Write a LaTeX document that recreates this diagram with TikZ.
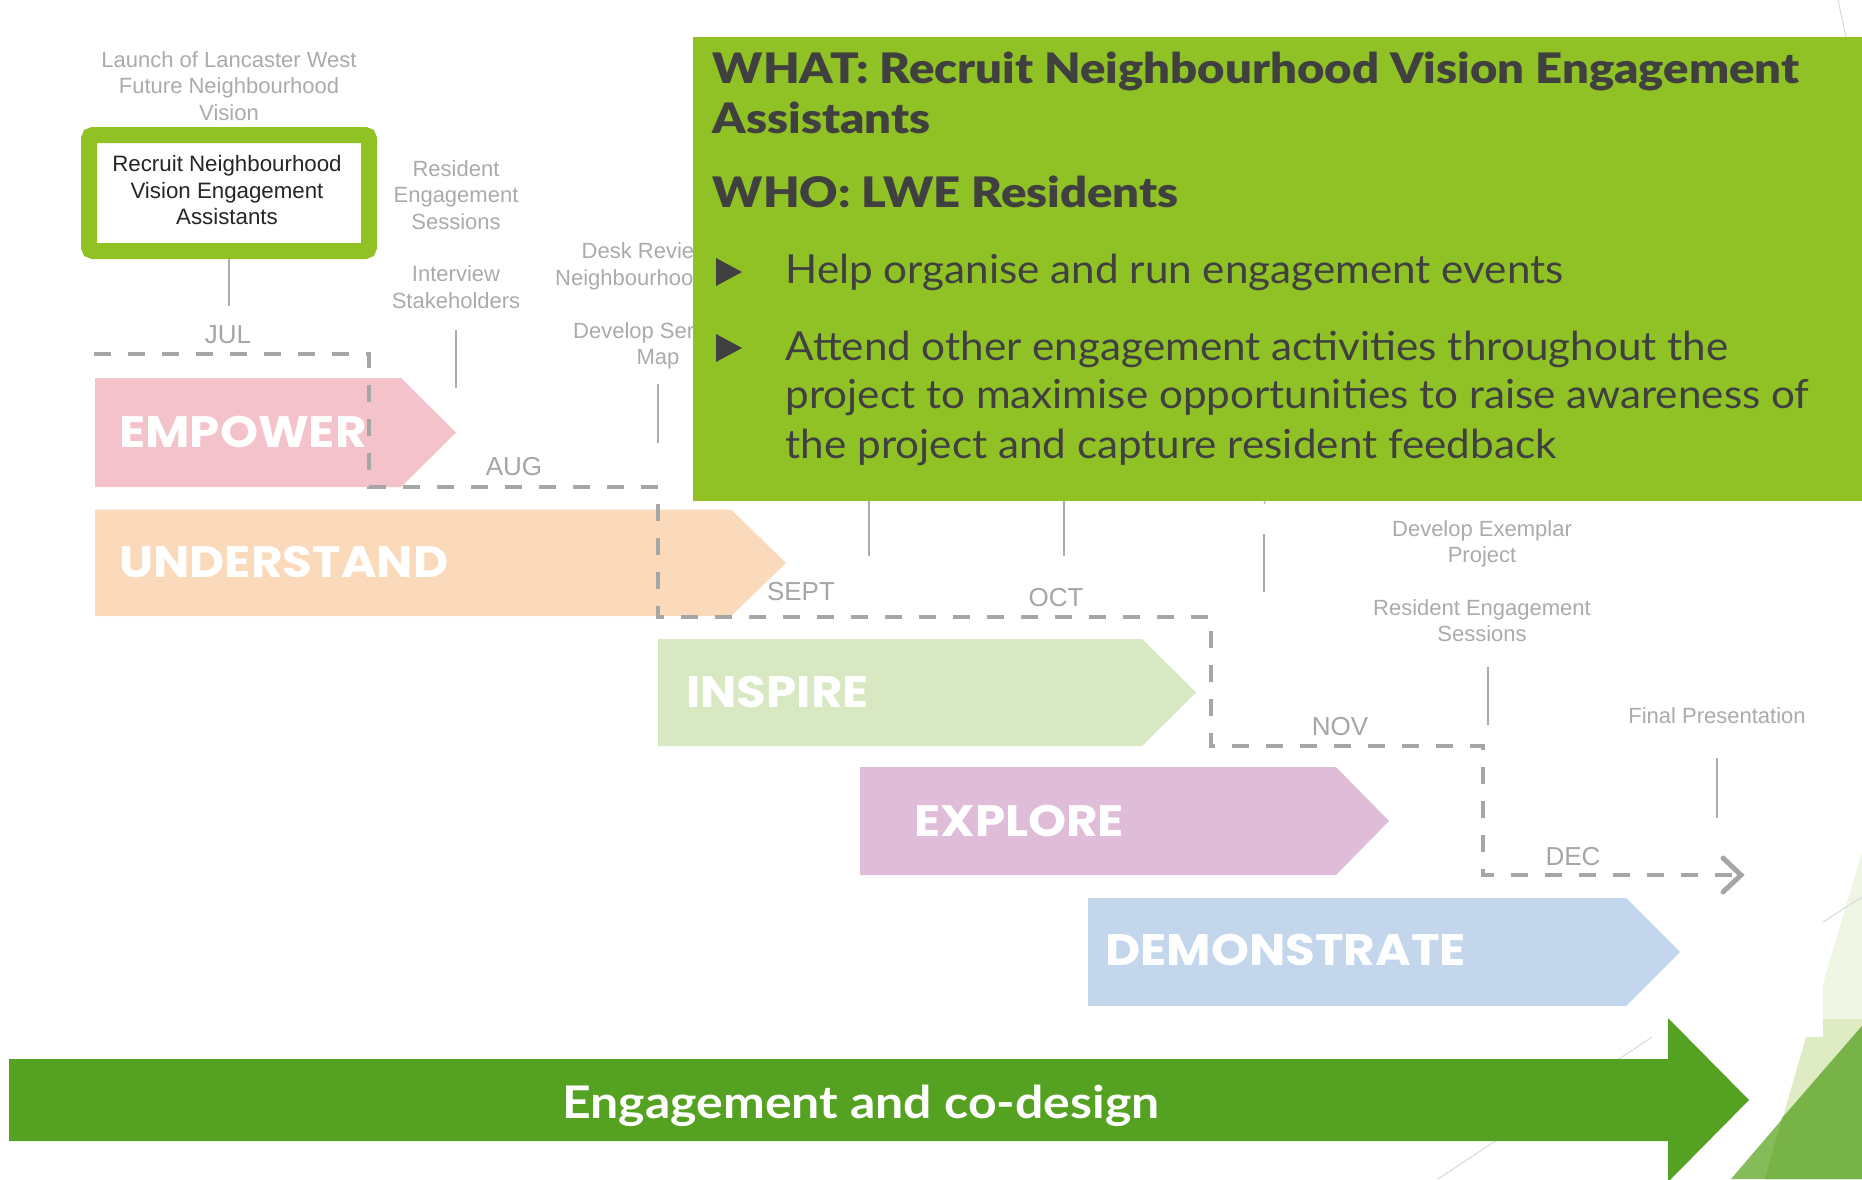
\documentclass[tikz,border=0pt]{standalone}
\usepackage{fontspec}
\setmainfont{Liberation Sans}
\newfontfamily\gillbold[FakeStretch=1.125]{Lato Black}
\newfontfamily\gillplain[FakeStretch=1.055]{Lato}
\newfontfamily\gillbar[FakeStretch=1.11]{Lato}
\newfontfamily\bannerfont[FakeStretch=1.10]{Poppins}
\definecolor{boxgreen}{HTML}{90C226}
\definecolor{bargreen}{HTML}{55A122}
\definecolor{darktext}{HTML}{404040}
\definecolor{graytext}{HTML}{ABABAB}
\definecolor{dashgray}{HTML}{A6A6A6}
\definecolor{cpink}{HTML}{F4C2CB}
\definecolor{corange}{HTML}{FBD9BB}
\definecolor{cgreen}{HTML}{D7E8C3}
\definecolor{cpurple}{HTML}{DFBDD9}
\definecolor{cblue}{HTML}{C4D6EC}
\definecolor{decoa}{RGB}{239,246,227}
\definecolor{decob}{RGB}{223,235,195}
\definecolor{decoc}{RGB}{134,187,90}
\definecolor{decod}{RGB}{120,179,72}
\tikzset{
  x=1pt,y=-1pt,
  graylabel/.style={anchor=base,inner sep=0pt,align=center,text=graytext,font=\fontsize{22}{26.3}\selectfont},
  monthlabel/.style={anchor=base,inner sep=0pt,text=dashgray,font=\fontsize{26}{30}\selectfont},
  stem/.style={draw=graytext,line width=2pt},
  banner/.style={anchor=west,inner sep=0pt,text=white,font=\fontsize{44}{48}\bannerfont\bfseries},
  boxbold/.style={anchor=base west,inner sep=0pt,text=darktext,font=\fontsize{42}{50}\gillbold},
  boxplain/.style={anchor=base west,inner sep=0pt,text=darktext,font=\fontsize{40}{49}\gillplain},
  bullet/.style={fill=darktext,draw=none},
}
\begin{document}
\begin{tikzpicture}
\useasboundingbox (0,0) rectangle (1862,1179);
\fill[white] (0,0) rectangle (1862,1179);
% decorative background
\fill[decoa] (1862,852) -- (1823,984) -- (1823,1037) -- (1862,1037) -- cycle;
\fill[decob] (1823,1019) -- (1862,1019) -- (1862,1179) -- (1765,1179) -- (1806,1037) -- (1823,1037) -- cycle;
\fill[decoc] (1862,1026) -- (1731,1179) -- (1862,1179) -- cycle;
\fill[decod] (1862,1026) -- (1782,1118) -- (1765,1179) -- (1862,1179) -- cycle;
\draw[black!15,line width=1pt] (1652,1037) -- (1438,1179);
\draw[black!15,line width=1pt] (1823,922) -- (1862,897);
\draw[black!15,line width=1pt] (1838,0) -- (1846,37);
% chevrons
\fill[cpink] (95,378) -- (401,378) -- (456,432.5) -- (401,487) -- (95,487) -- cycle;
\fill[corange] (95,509.5) -- (731,509.5) -- (786,563) -- (731,616) -- (95,616) -- cycle;
\fill[cgreen] (658,639) -- (1142,639) -- (1196,692.5) -- (1142,746) -- (658,746) -- cycle;
\fill[cpurple] (860,767) -- (1336,767) -- (1389,821) -- (1336,875) -- (860,875) -- cycle;
\fill[cblue] (1088,898) -- (1626,898) -- (1680,952) -- (1626,1006) -- (1088,1006) -- cycle;
\node[banner] (empower) at (119,432) {EMPOWER};
\node[banner] (understand) at (119,562) {UNDERSTAND};
\node[banner] (inspire) at (686,692) {INSPIRE};
\node[banner] (explore) at (914,821) {EXPLORE};
\node[banner] (demonstrate) at (1105,950) {DEMONSTRATE};
% dashed timeline
\coordinate (d0) at (94,354);
\coordinate (d1) at (369,354);
\coordinate (d2) at (369,487);
\coordinate (d3) at (658,487);
\coordinate (d4) at (658,617);
\coordinate (d5) at (1211,617);
\coordinate (d6) at (1211,746);
\coordinate (d7) at (1483,746);
\coordinate (d8) at (1483,875);
\coordinate (d9) at (1741,875);
\draw[dashgray,line width=4.5pt,dash pattern=on 17pt off 17pt] (d0) -- (d1) -- (d2) -- (d3) -- (d4) -- (d5) -- (d6) -- (d7) -- (d8) -- (d9);
\draw[dashgray,line width=5pt,line cap=round,line join=miter] (1723,858) -- (d9) -- (1723,892);
% month labels
\node[monthlabel] (jul) at (228,343) {JUL};
\node[monthlabel] (aug) at (514,475) {AUG};
\node[monthlabel] (sept) at (801,600) {SEPT};
\node[monthlabel] (oct) at (1056,606) {OCT};
\node[monthlabel] (nov) at (1340,735) {NOV};
\node[monthlabel] (dec) at (1573,865) {DEC};
% activity labels
\node[graylabel] (launch) at (229,120) {Launch of Lancaster West\\Future Neighbourhood\\Vision};
\node[graylabel] (res1) at (456,229) {Resident\\Engagement\\Sessions};
\node[graylabel] (inter) at (456,308) {Interview\\Stakeholders};
\node[graylabel,anchor=base west] (desk1) at (581.5,258) {Desk Revie};
\node[graylabel,anchor=base west] (desk2) at (555,285) {Neighbourhoo};
\node[graylabel,anchor=base west] (dev1) at (573,338) {Develop Ser};
\node[graylabel] (dev2) at (658,364) {Map};
\node[graylabel] (exem) at (1482,562.5) {Develop Exemplar\\Project};
\node[graylabel] (res2) at (1482,641.5) {Resident Engagement\\Sessions};
\node[graylabel] (final) at (1717,723) {Final Presentation};
% stems
\coordinate (s1) at (229,306);
\coordinate (s2a) at (456,330);
\coordinate (s2b) at (456,388);
\coordinate (s3a) at (658,384);
\coordinate (s3b) at (658,443);
\coordinate (s4a) at (869,500);
\coordinate (s4b) at (869,556);
\coordinate (s5a) at (1064,500);
\coordinate (s5b) at (1064,556);
\coordinate (s6a) at (1264,533.5);
\coordinate (s6b) at (1264,592);
\coordinate (s7a) at (1488,666.5);
\coordinate (s7b) at (1488,725);
\coordinate (s8a) at (1717,758);
\coordinate (s8b) at (1717,818);
\draw[stem] (s2a) -- (s2b);
\draw[stem] (s3a) -- (s3b);
\draw[stem] (s4a) -- (s4b);
\draw[stem] (s5a) -- (s5b);
\draw[stem] (s6a) -- (s6b);
\draw[stem] (s7a) -- (s7b);
\draw[stem] (s8a) -- (s8b);
\draw[graytext,line width=1pt] (1266,500) -- (1264,504);
% highlighted activity
\node[draw=boxgreen,fill=white,line width=16pt,rounded corners=4pt,minimum width=280pt,minimum height=116pt,inner sep=0pt] (recruit) at (229,193) {};
\node[anchor=base,inner sep=0pt,align=center,text=black!85,font=\fontsize{22.3}{26.3}\selectfont] (recruittext) at (227,224.3) {Recruit Neighbourhood\\Vision Engagement\\Assistants};
\draw[stem] (recruit.south) -- (s1);
% green text panel
\fill[boxgreen] (693,37) rectangle (1862,500.5);
\node[boxbold] (what1) at (712.5,83) {WHAT: Recruit Neighbourhood Vision Engagement};
\node[boxbold] (what2) at (712.5,133) {Assistants};
\node[boxbold] (who) at (712.5,207) {WHO: LWE Residents};
\fill[bullet] (716,258) -- (742,272) -- (716,286) -- cycle;
\node[boxplain] (help) at (785.5,283) {Help organise and run engagement events};
\fill[bullet] (716,334) -- (742,348) -- (716,362) -- cycle;
\node[boxplain] (att1) at (785.5,360) {Attend other engagement activities throughout the};
\node[boxplain] (att2) at (785.5,408) {project to maximise opportunities to raise awareness of};
\node[boxplain] (att3) at (785.5,458) {the project and capture resident feedback};
% big arrow
\fill[bargreen] (9,1059) -- (1668,1059) -- (1668,1018) -- (1749,1100) -- (1668,1182) -- (1668,1141) -- (9,1141) -- cycle;
\node[anchor=base,inner sep=0pt,text=white,font=\fontsize{45}{50}\gillbar\bfseries] (engage) at (861,1118) {Engagement and co-design};
\end{tikzpicture}
\end{document}
